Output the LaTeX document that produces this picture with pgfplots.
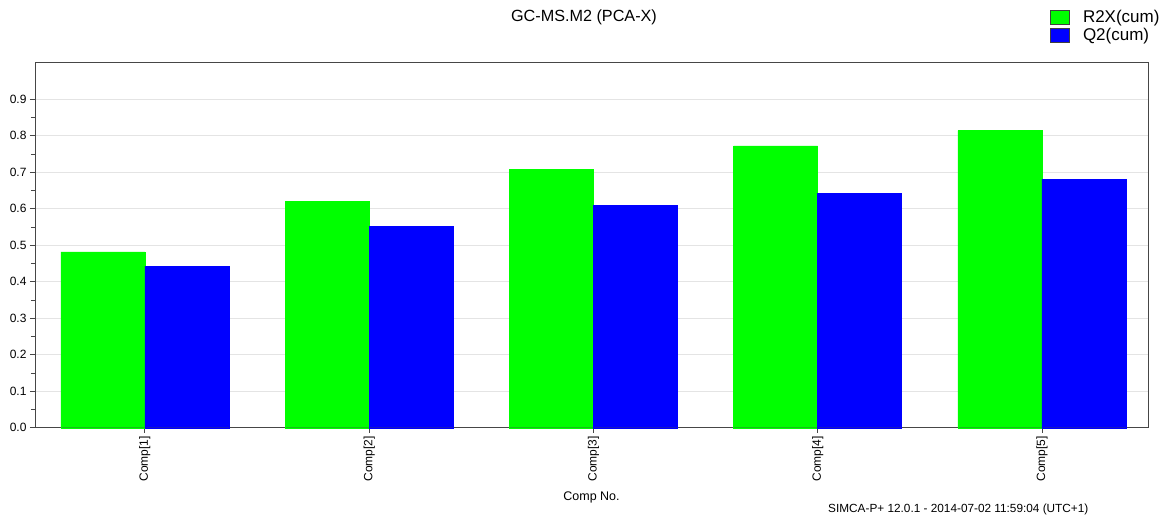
\documentclass[border=0pt]{standalone}
\usepackage{fontspec}
\setmainfont{Liberation Sans}
\usepackage{pgfplots}
\pgfplotsset{compat=1.18}
\definecolor{rg}{RGB}{0,255,0}
\definecolor{bb}{RGB}{0,0,255}
\definecolor{gridc}{RGB}{228,228,228}
\definecolor{axc}{RGB}{70,70,70}
\begin{document}
\begin{tikzpicture}
\useasboundingbox (0pt,0pt) rectangle (1168pt,-518pt);
\begin{axis}[
  at={(35pt,-427.7pt)}, anchor=south west,
  scale only axis, width=1113pt, height=365pt,
  xmin=-0.49, xmax=4.473, ymin=0, ymax=1,
  xtick={0,1,2,3,4},
  xticklabels={Comp[1],Comp[2],Comp[3],Comp[4],Comp[5]},
  xtick pos=bottom, ytick pos=left,
  ytick={0,0.1,0.2,0.3,0.4,0.5,0.6,0.7,0.8,0.9},
  minor y tick num=1,
  tick align=outside,
  major tick length=5pt, minor tick length=4pt,
  every tick/.style={axc, line width=0.8pt},
  axis line style={axc, line width=0.9pt},
  ymajorgrids,
  major grid style={gridc, line width=0.8pt},
  yticklabel style={/pgf/number format/fixed,/pgf/number format/precision=1,/pgf/number format/fixed zerofill, font=\fontsize{12}{14}\selectfont},
  /pgf/number format/assume math mode=true,
  xticklabel style={rotate=90, anchor=east, font=\fontsize{12}{14}\selectfont},
  xlabel={Comp No.},
  xlabel style={font=\fontsize{12.5}{14}\selectfont, at={(0.5,-0.19)}, anchor=center},
  ylabel={},
  legend style={at={(0.9115,1.1485)}, anchor=north west, draw=none, fill=none,
    font=\fontsize{17}{19}\selectfont, row sep=1pt, inner sep=0pt,
    nodes={inner sep=1.5pt}},
  legend cell align=left,
  legend image code/.code={\draw[#1, draw=black!75, line width=0.8pt] (0pt,-7pt) rectangle (19pt,7pt);},
  clip=false,
]
\addplot[ybar, bar width=84pt, bar shift=-42pt, fill=rg, draw=rg] coordinates {
 (0,0.482) (1,0.621) (2,0.708) (3,0.772) (4,0.814)};
\addlegendentry{\hspace{12pt}R2X(cum)}
\addplot[ybar, bar width=84pt, bar shift=42pt, fill=bb, draw=bb] coordinates {
 (0,0.443) (1,0.551) (2,0.610) (3,0.643) (4,0.681)};
\addlegendentry{\hspace{12pt}Q2(cum)}
\end{axis}
\node[font=\fontsize{16.2}{18}\selectfont] at (584pt,-17pt) {GC-MS.M2 (PCA-X)};
\node[anchor=west, font=\fontsize{11.8}{13}\selectfont, inner sep=0pt] at (828pt,-509pt) {SIMCA-P+ 12.0.1 - 2014-07-02 11:59:04 (UTC+1)};
\end{tikzpicture}
\end{document}
